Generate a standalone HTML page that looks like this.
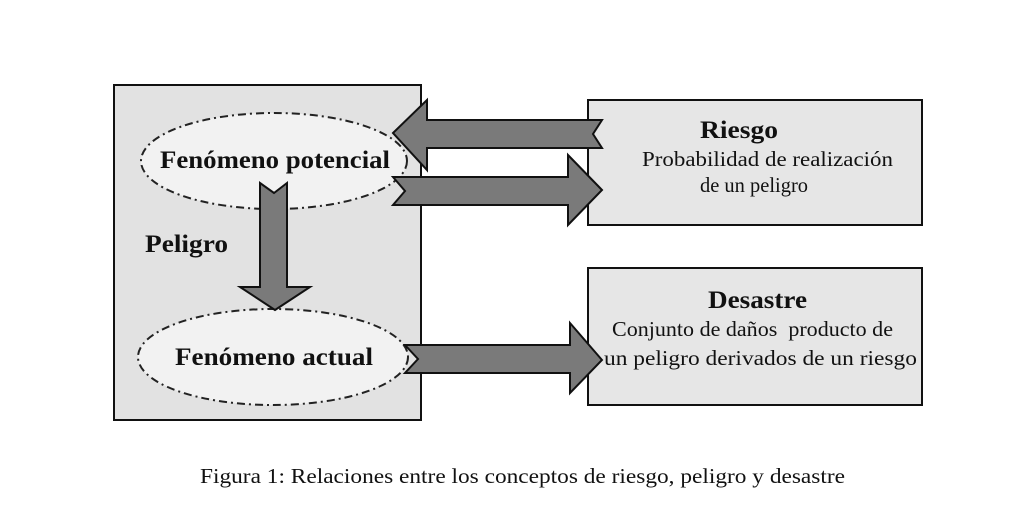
<!DOCTYPE html>
<html><head><meta charset="utf-8"><style>
html,body{margin:0;padding:0;background:#fff;}
svg{display:block;}
text{font-family:"Liberation Serif",serif;fill:#111;}
</style></head><body>
<svg width="1024" height="526" viewBox="0 0 1024 526">
<rect x="114" y="85" width="307" height="335" fill="#e2e2e2" stroke="#111" stroke-width="2"/>
<rect x="588" y="100" width="334" height="125" fill="#e6e6e6" stroke="#111" stroke-width="2"/>
<rect x="588" y="268" width="334" height="137" fill="#e6e6e6" stroke="#111" stroke-width="2"/>
<ellipse cx="274" cy="161" rx="133" ry="48" fill="#f2f2f2" stroke="#222" stroke-width="2" stroke-dasharray="8,4,2,4"/>
<ellipse cx="273" cy="357" rx="135" ry="48" fill="#f2f2f2" stroke="#222" stroke-width="2" stroke-dasharray="8,4,2,4"/>
<g fill="#7a7a7a" stroke="#111" stroke-width="2" stroke-linejoin="miter">
<polygon points="393,133 427,100 427,120 602,120 593,134 602,148 427,148 427,170"/>
<polygon points="602,190 568,155 568,177 393,177 405,191 393,205 568,205 568,225"/>
<polygon points="260,183 274,193 287,183 287,287 310,287 275,310 240,287 260,287"/>
<polygon points="602,360 570,323 570,345 405,345 418,359 405,373 570,373 570,393"/>
</g>
<g font-weight="bold" font-size="25">
<text x="160" y="168" textLength="230" lengthAdjust="spacingAndGlyphs">Fenómeno potencial</text>
<text x="145" y="252" textLength="83" lengthAdjust="spacingAndGlyphs">Peligro</text>
<text x="175" y="365" textLength="198" lengthAdjust="spacingAndGlyphs">Fenómeno actual</text>
<text x="700" y="138" textLength="78" lengthAdjust="spacingAndGlyphs">Riesgo</text>
<text x="708" y="308" textLength="99" lengthAdjust="spacingAndGlyphs">Desastre</text>
</g>
<g font-size="21">
<text x="642" y="166" textLength="251" lengthAdjust="spacingAndGlyphs">Probabilidad de realización</text>
<text x="700" y="192" textLength="108" lengthAdjust="spacingAndGlyphs">de un peligro</text>
<text x="612" y="336" textLength="281" lengthAdjust="spacingAndGlyphs" xml:space="preserve">Conjunto de daños  producto de</text>
<text x="604" y="365" textLength="313" lengthAdjust="spacingAndGlyphs">un peligro derivados de un riesgo</text>
<text x="200" y="483" textLength="645" lengthAdjust="spacingAndGlyphs">Figura 1: Relaciones entre los conceptos de riesgo, peligro y desastre</text>
</g>
</svg>
</body></html>
